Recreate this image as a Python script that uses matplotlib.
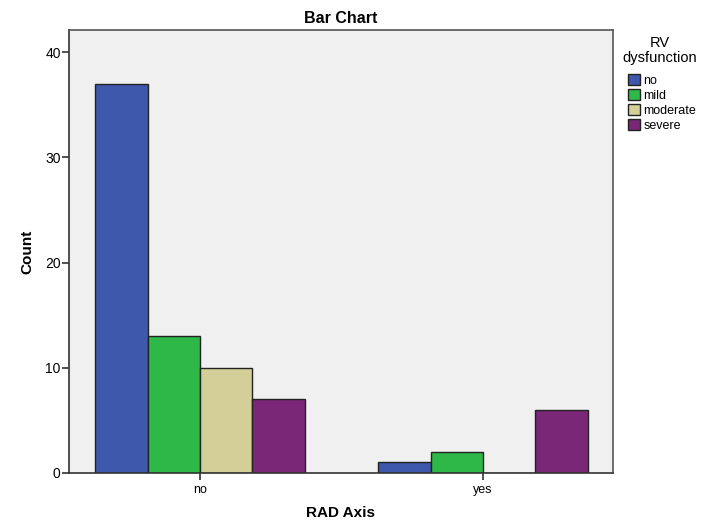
import numpy as np
import matplotlib
matplotlib.use('Agg')
import matplotlib.pyplot as plt

plt.rcParams['font.family'] = ['Liberation Sans', 'DejaVu Sans']

# ===================== DATA =====================
groups = ["no", "yes"]
levels = ["no", "mild", "moderate", "severe"]
counts = {
    "no": [37, 1],
    "mild": [13, 2],
    "moderate": [10, 0],
    "severe": [7, 6],
}
colors = ["#3E58AC", "#2EB848", "#D4CF98", "#7B2778"]

# ===================== PLOT =====================
fig = plt.figure(figsize=(7.12, 5.24), dpi=100)
ax = fig.add_axes([69 / 712, 51 / 524, 544 / 712, 443 / 524])
ax.set_facecolor("#F0F0F0")

x = np.arange(len(groups))
width = 0.185
for i, (lvl, col) in enumerate(zip(levels, colors)):
    offs = (i - 1.5) * width
    ax.bar(x + offs, counts[lvl], width, color=col, edgecolor="#222222",
           linewidth=1.0, label=lvl, zorder=2)

ax.set_xlim(-0.463, 1.459)
ax.set_ylim(0, 42.1)
ax.set_yticks([0, 10, 20, 30, 40])
ax.set_xticks(x)
ax.set_xticklabels(groups)
ax.tick_params(axis='y', length=5, width=1.2, labelsize=10, color="#333333", pad=1)
ax.tick_params(axis='x', length=5, width=1.2, labelsize=9, color="#333333", pad=3)

for side, sp in ax.spines.items():
    sp.set_color("#555555")
    sp.set_linewidth(1.2)
ax.spines['left'].set_color("#333333")
ax.spines['bottom'].set_color("#333333")

ax.set_title("Bar Chart", fontsize=11.5, fontweight='bold', pad=5)
ax.set_xlabel("RAD Axis", fontsize=11, fontweight='bold', labelpad=7)
ax.set_ylabel("Count", fontsize=11, fontweight='bold', labelpad=8)

# legend title drawn separately so it can sit centred above the keys
fig.text(660 / 712, 1 - 43 / 524, "RV", ha='center', va='center', fontsize=10.5)
fig.text(660 / 712, 1 - 58 / 524, "dysfunction", ha='center', va='center', fontsize=10.5)
fig.legend(loc='upper left', bbox_to_anchor=(619 / 712, 1 - 65 / 524),
           frameon=False, fontsize=9, handlelength=1.0, handleheight=1.0,
           handletextpad=0.25, labelspacing=0.18, borderpad=0.2)

fig.savefig("out.png", dpi=100)
